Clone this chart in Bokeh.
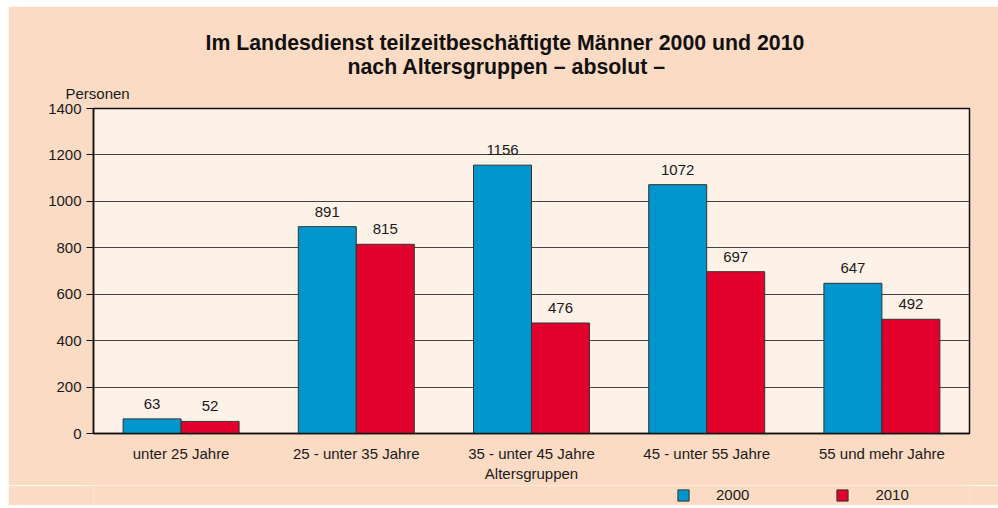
from bokeh.plotting import figure
from bokeh.layouts import column
from bokeh.models import (FactorRange, Range1d, ColumnDataSource, LabelSet, Title,
                          Legend, LegendItem, FixedTicker)
from bokeh.core.properties import value
from bokeh.transform import dodge
from bokeh.embed import file_html
from bokeh.resources import INLINE

categories = ["unter 25 Jahre", "25 - unter 35 Jahre", "35 - unter 45 Jahre",
              "45 - unter 55 Jahre", "55 und mehr Jahre"]
values_2000 = [63, 891, 1156, 1072, 647]
values_2010 = [52, 815, 476, 697, 492]
y_ticks = [0, 200, 400, 600, 800, 1000, 1200, 1400]

FONT = "Liberation Sans"
BLUE = "#0096CC"
RED = "#E2002C"
OUTER = "#FBDBC4"
INNER = "#FDF1E8"
TXT = "#1a1a1a"

src = ColumnDataSource(dict(cat=categories, v2000=values_2000, v2010=values_2010,
                            l2000=[str(v) for v in values_2000],
                            l2010=[str(v) for v in values_2010]))

p = figure(frame_width=876, frame_height=325, x_range=FactorRange(*categories),
           y_range=Range1d(0, 1400), output_backend="svg", toolbar_location=None,
           min_border_left=85, min_border_right=29, min_border_top=102,
           min_border_bottom=52, title=None)
p.margin = (6, 0, 0, 8)
p.background_fill_color = INNER
p.border_fill_color = OUTER
p.outline_line_color = "#111111"
p.outline_line_width = 1.5

bar_kw = dict(width=0.331, source=src, line_color="#333333", line_width=1)
r1 = p.vbar(x=dodge("cat", -0.1655, range=p.x_range), top="v2000",
            fill_color=BLUE, **bar_kw)
r2 = p.vbar(x=dodge("cat", 0.1655, range=p.x_range), top="v2010",
            fill_color=RED, **bar_kw)

for col, off in (("2000", -0.1655), ("2010", 0.1655)):
    p.add_layout(LabelSet(x=dodge("cat", off, range=p.x_range), y="v" + col,
                          text="l" + col, source=src, text_align="center",
                          text_baseline="alphabetic", y_offset=10,
                          text_font=value(FONT), text_font_size=value("15px"),
                          text_color=TXT))

# axes
p.yaxis.ticker = FixedTicker(ticks=y_ticks)
p.yaxis.major_label_text_font = FONT
p.yaxis.major_label_text_font_size = "15px"
p.yaxis.major_label_text_color = TXT
p.yaxis.axis_line_color = "#111111"
p.yaxis.axis_line_width = 1.5
p.yaxis.major_tick_line_color = "#111111"
p.yaxis.major_tick_out = 7
p.yaxis.major_tick_in = 0
p.yaxis.minor_tick_line_color = None
p.yaxis.major_label_standoff = 5

p.xaxis.major_label_text_font = FONT
p.xaxis.major_label_text_font_size = "15px"
p.xaxis.major_label_text_color = TXT
p.xaxis.axis_line_color = "#111111"
p.xaxis.axis_line_width = 1.5
p.xaxis.major_tick_line_color = None
p.xaxis.major_label_standoff = 5
p.xaxis.axis_label = "Altersgruppen"
p.xaxis.axis_label_text_font = FONT
p.xaxis.axis_label_text_font_size = "15px"
p.xaxis.axis_label_text_font_style = "normal"
p.xaxis.axis_label_text_color = TXT
p.xaxis.axis_label_standoff = 0

p.xgrid.grid_line_color = None
p.ygrid.ticker = FixedTicker(ticks=y_ticks)
p.ygrid.grid_line_color = "#444444"
p.ygrid.grid_line_width = 1

# titles (stacked above the frame: first added is closest to the frame)
p.add_layout(Title(text="Personen", align="left", offset=-28, standoff=13,
                   text_font=FONT, text_font_size="15px", text_font_style="normal",
                   text_color=TXT), "above")
p.add_layout(Title(text="nach Altersgruppen – absolut –", align="left", offset=254,
                   standoff=-4, text_font=FONT, text_font_size="21.3px",
                   text_font_style="bold", text_color="#111111"), "above")
p.add_layout(Title(text="Im Landesdienst teilzeitbeschäftigte Männer 2000 und 2010",
                   align="left", offset=112, standoff=-1, text_font=FONT,
                   text_font_size="21.3px", text_font_style="bold",
                   text_color="#111111"), "above")

# legend strip below the chart (its own small figure so nothing is clipped)
leg = figure(width=990, height=20, x_range=p.x_range, y_range=Range1d(2000, 3000),
             output_backend="svg", toolbar_location=None, min_border=0,
             x_axis_location=None, y_axis_location=None, title=None)
leg.margin = (0, 0, 0, 8)
leg.background_fill_color = OUTER
leg.border_fill_color = OUTER
leg.outline_line_color = None
leg.xgrid.grid_line_color = None
leg.ygrid.grid_line_color = None
g1 = leg.vbar(x=dodge("cat", -0.1655, range=leg.x_range), top="v2000",
              fill_color=BLUE, **bar_kw)
g2 = leg.vbar(x=dodge("cat", 0.1655, range=leg.x_range), top="v2010",
              fill_color=RED, **bar_kw)

legend = Legend(items=[LegendItem(label="2000", renderers=[g1]),
                       LegendItem(label="2010", renderers=[g2])],
                orientation="horizontal", location=(583, 2),
                background_fill_alpha=0, border_line_color=None,
                glyph_width=14, glyph_height=14, label_standoff=26, spacing=86,
                label_height=16, padding=0, margin=0,
                label_text_font=FONT, label_text_font_size="15px",
                label_text_color=TXT)
leg.add_layout(legend)

layout = column(p, leg, spacing=0)
open("out.html", "w").write(file_html(layout, INLINE))
